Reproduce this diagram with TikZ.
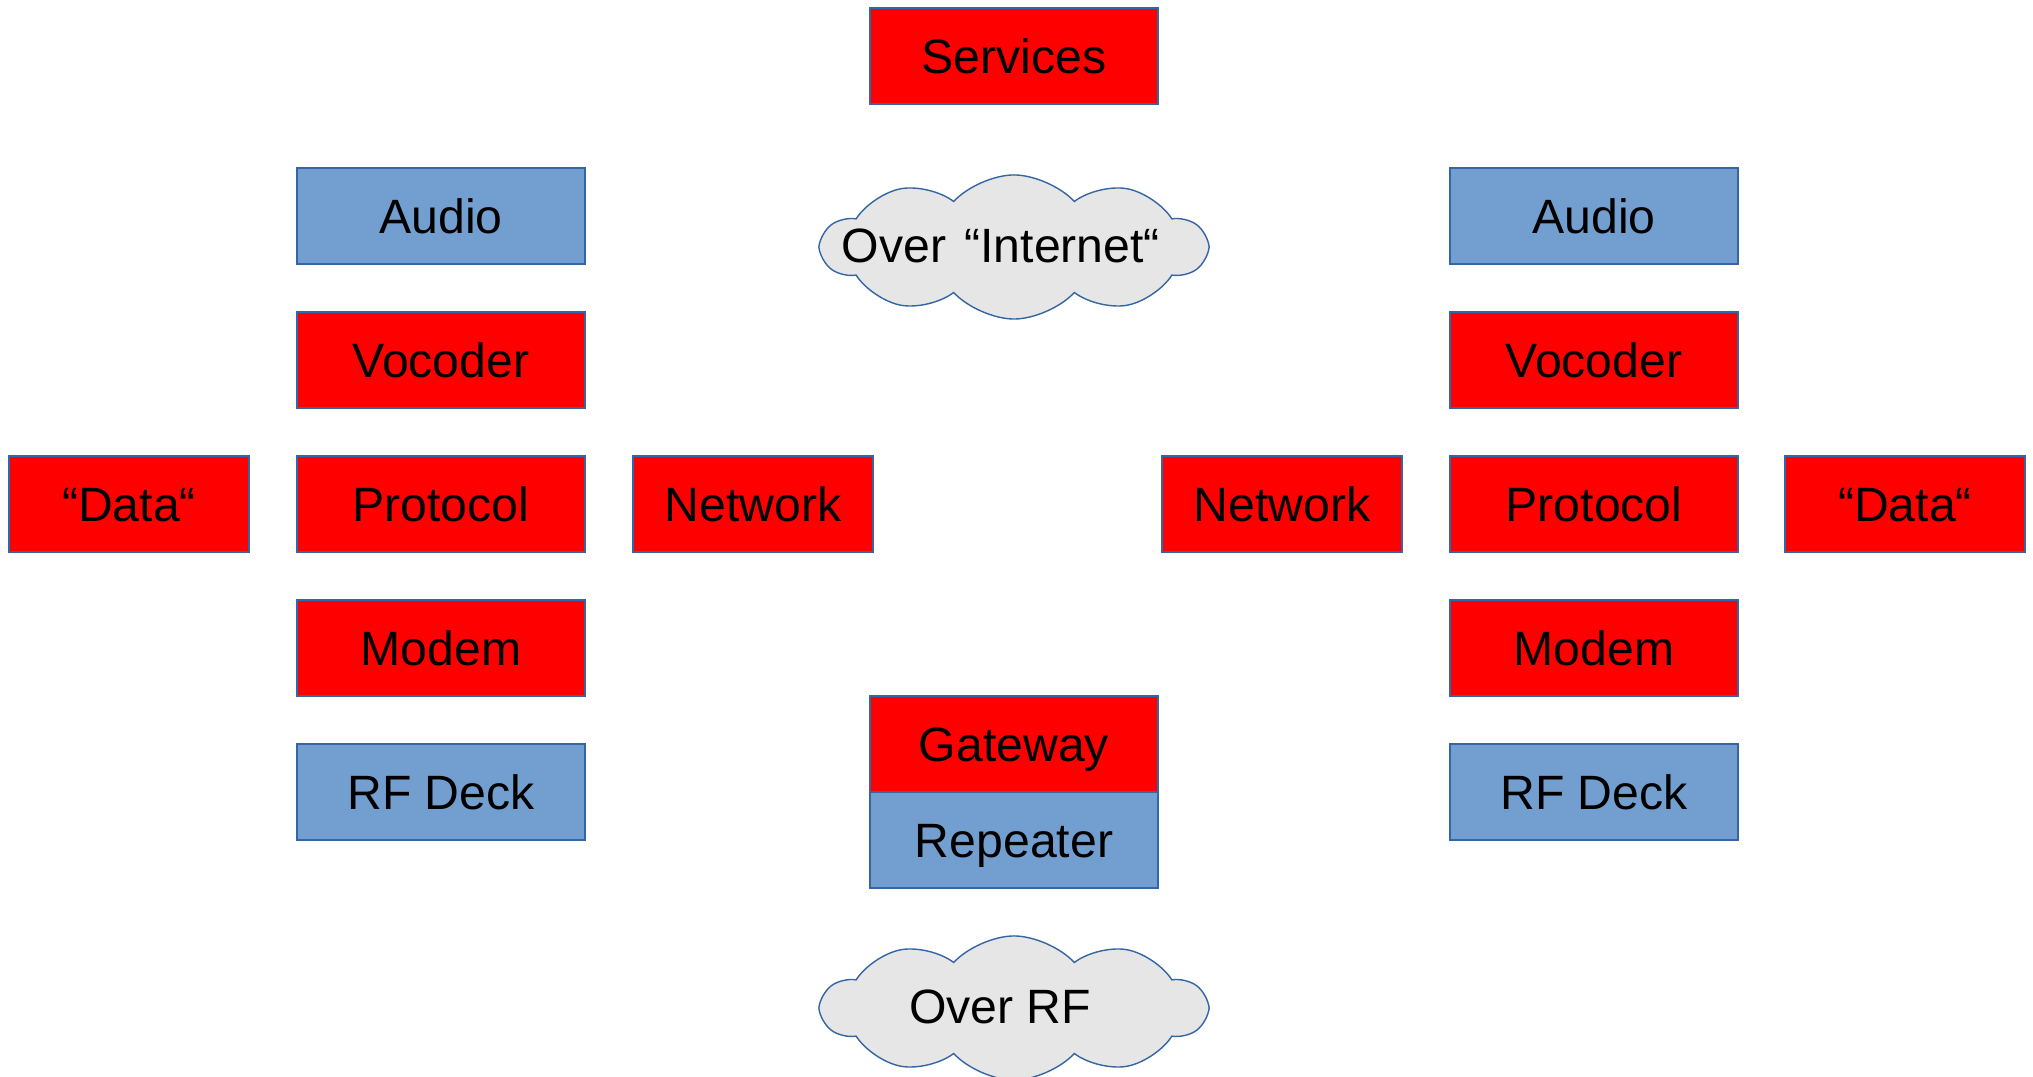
\documentclass[tikz,border=0pt]{standalone}
\usepackage{fontspec}
\setmainfont{Liberation Sans}
\usetikzlibrary{shapes.symbols}
\definecolor{layerred}{HTML}{FF0000}
\definecolor{layerblue}{HTML}{729FCF}
\definecolor{edgeblue}{HTML}{3465A4}
\definecolor{cloudgray}{HTML}{E6E6E6}
\begin{document}
\begin{tikzpicture}[x=0.01cm, y=-0.01cm,
    layer/.style={draw=edgeblue, line width=0.4pt, minimum width=2.88cm, minimum height=0.96cm,
      inner sep=0pt, text height=9.9pt, text depth=0pt, font=\fontsize{13.7}{16}\selectfont},
    soft/.style={layer, fill=layerred},
    hard/.style={layer, fill=layerblue},
    side/.style={soft, minimum width=2.4cm},
    net/.style={cloud, cloud puffs=10, cloud puff arc=95, aspect=2.6, draw=edgeblue, fill=cloudgray,
      line width=0.4pt, minimum width=3.84cm, minimum height=1.44cm, inner sep=0pt},
    cloudtext/.style={text height=9.9pt, text depth=0pt, font=\fontsize{13.7}{16}\selectfont}]
    \useasboundingbox (0,0) rectangle (2033,1077);

    % Top of the stack
    \node[soft] (services) at (1014,56) {Services};

    % Left station
    \node[hard] (audioL) at (441,216) {Audio};
    \node[soft] (vocoderL) at (441,360) {Vocoder};
    \node[soft] (protocolL) at (441,504) {Protocol};
    \node[soft] (modemL) at (441,648) {Modem};
    \node[hard] (rfL) at (441,792) {RF Deck};
    \node[side] (dataL) at (129,504) {“Data“};
    \node[side] (networkL) at (753,504) {Network};

    % Right station
    \node[hard] (audioR) at (1594,216) {Audio};
    \node[soft] (vocoderR) at (1594,360) {Vocoder};
    \node[soft] (protocolR) at (1594,504) {Protocol};
    \node[soft] (modemR) at (1594,648) {Modem};
    \node[hard] (rfR) at (1594,792) {RF Deck};
    \node[side] (dataR) at (1905,504) {“Data“};
    \node[side] (networkR) at (1282,504) {Network};

    % Gateway on top of repeater
    \node[soft] (gateway) at (1014,744) {Gateway};
    \node[hard] (repeater) at (1014,840) {Repeater};

    % Clouds
    \node[net] (internet) at (1014,247) {};
    \node[cloudtext] (internettext) at (1001,245) {Over\hspace{0.1em} “Internet“};
    \node[net] (rflink) at (1014,1008) {};
    \node[cloudtext] (rftext) at (1000,1006) {Over RF};
\end{tikzpicture}
\end{document}
